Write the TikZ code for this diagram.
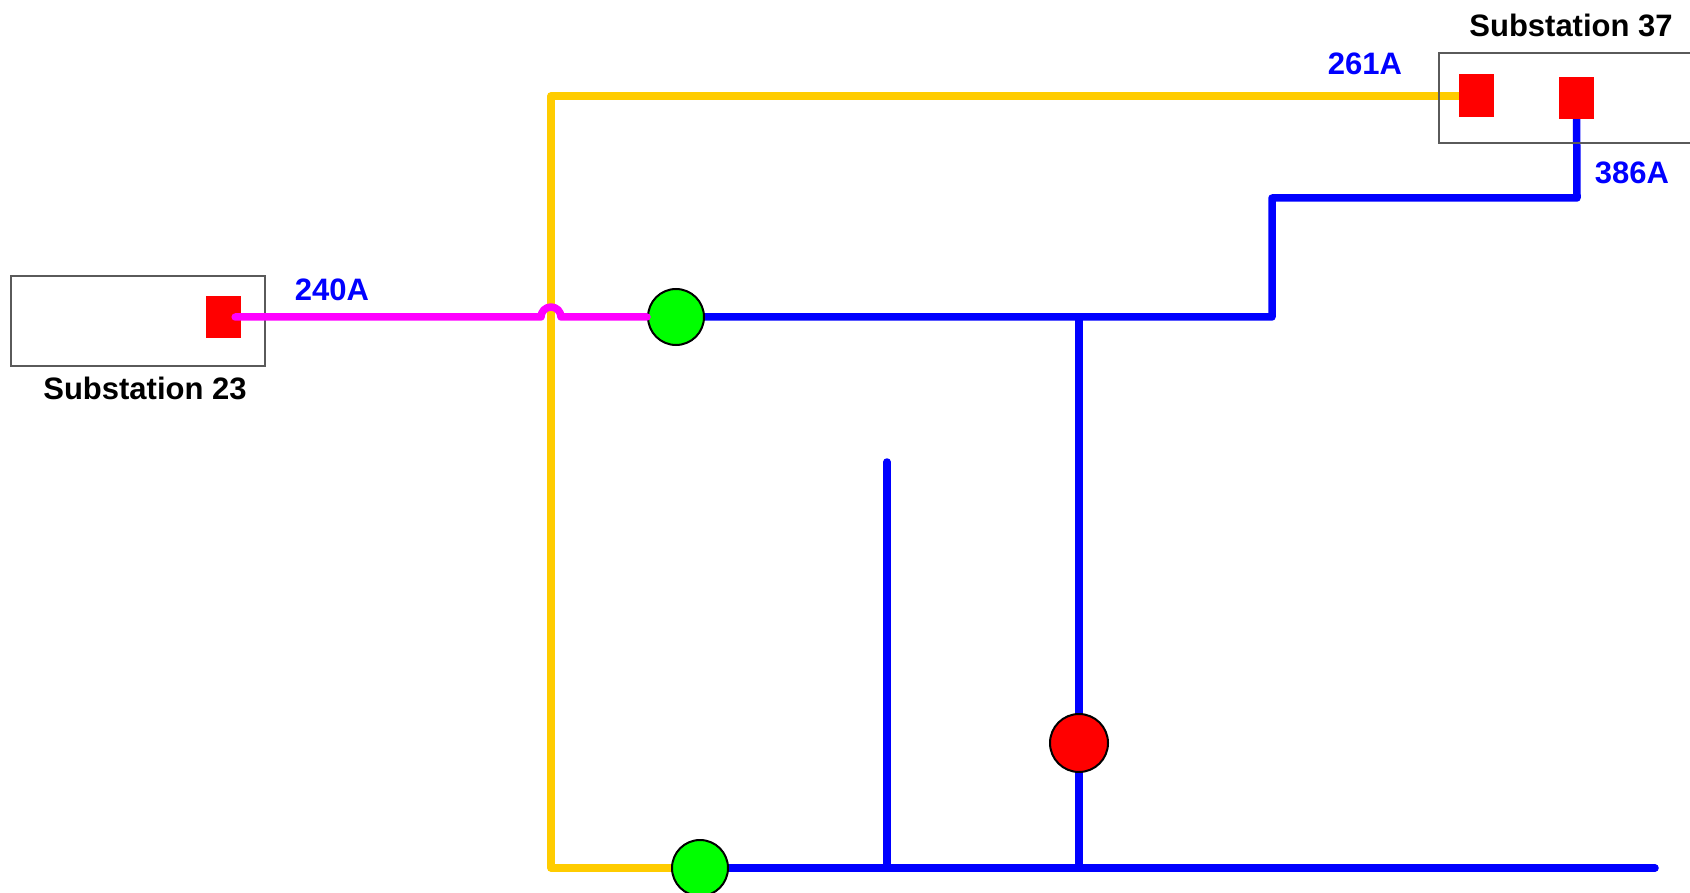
\documentclass[tikz,border=0pt]{standalone}
\usepackage{fontspec}
\setmainfont{Liberation Sans}
\usetikzlibrary{backgrounds}
\definecolor{ylw}{RGB}{255,204,0}
\definecolor{mag}{RGB}{255,0,255}
\definecolor{blu}{RGB}{0,0,255}
\definecolor{grn}{RGB}{0,255,0}
\definecolor{rd}{RGB}{255,0,0}
\definecolor{bordergray}{RGB}{90,90,90}
\tikzset{
  wire/.style={line width=7.5pt, line cap=round, line join=round},
  stbox/.style={draw=bordergray, line width=1.5pt, inner sep=0pt},
  sq/.style={fill=rd, inner sep=0pt, minimum width=35pt, minimum height=42pt},
  bulb/.style={circle, draw=black, line width=2pt, inner sep=0pt, minimum size=56pt},
  amp/.style={text=blu, font=\fontsize{31}{36}\selectfont\bfseries, inner sep=0pt},
  title/.style={text=black, font=\fontsize{31}{36}\selectfont\bfseries, inner sep=0pt}
}
\begin{document}
\begin{tikzpicture}[x=1pt,y=-1pt]
\useasboundingbox (0,0) rectangle (1690,893);
% substation boxes
\node[stbox, minimum width=254pt, minimum height=90pt] (box23) at (138,321) {};
\node[stbox, minimum width=262pt, minimum height=90pt] (box37) at (1570,98) {};
\node[title] (t23) at (145,388) {Substation 23};
\node[title] (t37) at (1571,25) {Substation 37};
% breakers
\node[sq] (sq23) at (223.5,317) {};
\node[sq, minimum height=43pt] (sq37a) at (1476.5,96) {};
\node[sq] (sq37b) at (1576.5,98) {};
% switches
\node[bulb, fill=grn] (g1) at (676,317) {};
\node[bulb, fill=grn] (g2) at (700,868) {};
\node[bulb, fill=rd, minimum size=58pt] (r1) at (1079,743) {};
% labels
\node[amp] (a261) at (1365,64) {261A};
\node[amp] (a386) at (1632,173) {386A};
\node[amp] (a240) at (332,290) {240A};
% coordinates
\coordinate (ytop) at (551,96);
\coordinate (ybot) at (551,868);
\coordinate (hl) at (541,317);
\coordinate (b1) at (1272,317);
\coordinate (b2) at (1272,198);
\coordinate (b3) at (1577,198);
\coordinate (v1t) at (1079,317);
\coordinate (v1b) at (1079,868);
\coordinate (v2t) at (887,462);
\coordinate (v2b) at (887,868);
\coordinate (bend) at (1655,868);
\begin{scope}[on background layer]
  \draw[wire, ylw] (sq37a.center) -- (ytop) -- (ybot) -- (g2.center);
  \draw[wire, blu] (g1.center) -- (b1) -- (b2) -- (b3) -- (sq37b.center);
  \draw[wire, blu] (v1t) -- (v1b);
  \draw[wire, blu] (v2t) -- (v2b);
  \draw[wire, blu] (g2.center) -- (bend);
\end{scope}
\draw[wire, mag] ([xshift=-6pt]sq23.east) -- (hl) arc[start angle=180, end angle=360, radius=10] -- (g1.west);
\end{tikzpicture}
\end{document}
